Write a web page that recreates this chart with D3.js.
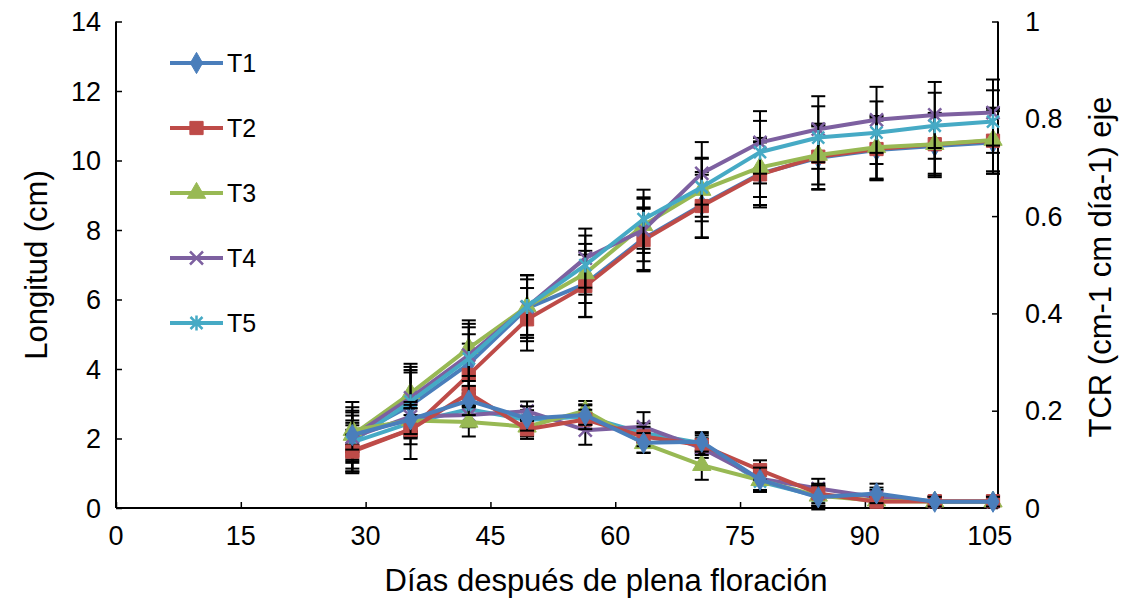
<!DOCTYPE html>
<html>
<head>
<meta charset="utf-8">
<script src="https://cdn.jsdelivr.net/npm/d3@7"></script>
<style>
  body { margin: 0; background: #fff; }
  svg { font-family: "Liberation Sans", Arial, sans-serif; }
</style>
</head>
<body>
<svg id="svg" width="1123" height="603"></svg>
<script>
// days after full bloom
var days = [28.4, 35.4, 42.4, 49.4, 56.4, 63.4, 70.4, 77.4, 84.4, 91.4, 98.4, 105.4];
var names = ["T1", "T2", "T3", "T4", "T5"];

// length (cm), left axis
var lenT1 = [2.05, 2.95, 4.15, 5.75, 6.45, 7.75, 8.72, 9.62, 10.08, 10.3, 10.42, 10.52];
var lenT2 = [1.65, 2.26, 3.83, 5.43, 6.39, 7.71, 8.69, 9.6, 10.11, 10.33, 10.47, 10.57];
var lenT3 = [2.1, 3.3, 4.6, 5.8, 6.75, 8.14, 9.15, 9.8, 10.16, 10.38, 10.47, 10.59];
var lenT4 = [2.05, 3.17, 4.4, 5.78, 7.19, 8.0, 9.63, 10.52, 10.9, 11.17, 11.31, 11.38];
var lenT5 = [1.9, 3.06, 4.3, 5.8, 6.99, 8.31, 9.23, 10.24, 10.66, 10.8, 11.0, 11.12];

var lenErrT1 = [1.0, 0.95, 0.85, 0.95, 0.95, 0.9, 0.95, 0.9, 0.9, 0.85, 0.9, 0.9];
var lenErrT2 = [0.6, 0.85, 0.9, 0.9, 0.9, 0.9, 0.9, 0.95, 0.95, 0.9, 0.9, 0.95];
var lenErrT3 = [0.8, 0.85, 0.8, 0.9, 0.85, 0.8, 0.9, 0.85, 0.85, 0.9, 0.85, 0.9];
var lenErrT4 = [0.7, 0.8, 0.9, 0.8, 0.85, 0.9, 0.9, 0.9, 0.95, 0.95, 0.95, 0.95];
var lenErrT5 = [0.9, 1.0, 0.9, 0.9, 0.85, 0.85, 0.85, 0.9, 0.9, 0.9, 0.95, 0.9];

// TCR, right axis
var tcrT1 = [0.15, 0.182, 0.221, 0.184, 0.191, 0.134, 0.136, 0.058, 0.022, 0.03, 0.013, 0.013];
var tcrT2 = [0.116, 0.161, 0.236, 0.162, 0.182, 0.147, 0.129, 0.078, 0.03, 0.013, 0.014, 0.014];
var tcrT3 = [0.16, 0.18, 0.177, 0.167, 0.2, 0.133, 0.088, 0.057, 0.025, 0.015, 0.013, 0.013];
var tcrT4 = [0.145, 0.188, 0.191, 0.199, 0.16, 0.167, 0.123, 0.06, 0.04, 0.022, 0.013, 0.013];
var tcrT5 = [0.135, 0.175, 0.203, 0.181, 0.188, 0.154, 0.133, 0.054, 0.024, 0.027, 0.013, 0.013];

var tcrErrT1 = [0.03, 0.03, 0.03, 0.025, 0.02, 0.02, 0.02, 0.025, 0.025, 0.02, 0.01, 0.01];
var tcrErrT2 = [0.035, 0.03, 0.025, 0.02, 0.02, 0.02, 0.02, 0.02, 0.02, 0.01, 0.01, 0.01];
var tcrErrT3 = [0.03, 0.025, 0.03, 0.02, 0.02, 0.02, 0.03, 0.02, 0.02, 0.01, 0.01, 0.01];
var tcrErrT4 = [0.03, 0.03, 0.025, 0.02, 0.03, 0.03, 0.02, 0.025, 0.02, 0.015, 0.01, 0.01];
var tcrErrT5 = [0.035, 0.03, 0.03, 0.02, 0.025, 0.02, 0.02, 0.02, 0.02, 0.015, 0.01, 0.01];

var xTicks = [0, 15, 30, 45, 60, 75, 90, 105];
var yLeftTicks = [0, 2, 4, 6, 8, 10, 12, 14];
var yRightTicks = [0, 0.2, 0.4, 0.6, 0.8, 1];

var colors = ["#4A7EBB", "#BE4B48", "#98B954", "#7D60A0", "#46AAC5"];
var markers = ["diamond", "square", "triangle", "x", "star"];

var lenData = [lenT1, lenT2, lenT3, lenT4, lenT5];
var lenErr = [lenErrT1, lenErrT2, lenErrT3, lenErrT4, lenErrT5];
var tcrData = [tcrT1, tcrT2, tcrT3, tcrT4, tcrT5];
var tcrErr = [tcrErrT1, tcrErrT2, tcrErrT3, tcrErrT4, tcrErrT5];

var svg = d3.select("#svg");
var plot = { left: 116, right: 998, top: 21.5, bottom: 508 };
var tickFont = 27, titleFont = 31;

var xScale = d3.scaleLinear().domain([0, 106]).range([plot.left, plot.right]);
var yLeft = d3.scaleLinear().domain([0, 14]).range([plot.bottom, plot.top]);
var yRight = d3.scaleLinear().domain([0, 1]).range([plot.bottom, plot.top]);

// axes, ticks pointing inward
var xAxis = svg.append("g")
  .attr("transform", "translate(0," + plot.bottom + ")")
  .call(d3.axisTop(xScale).tickValues(xTicks).tickSize(6).tickFormat(""));
var lAxis = svg.append("g")
  .attr("transform", "translate(" + plot.left + ",0)")
  .call(d3.axisRight(yLeft).tickValues(yLeftTicks).tickSize(6).tickFormat(""));
var rAxis = svg.append("g")
  .attr("transform", "translate(" + plot.right + ",0)")
  .call(d3.axisLeft(yRight).tickValues(yRightTicks).tickSize(6).tickFormat(""));
[xAxis, lAxis, rAxis].forEach(function (a) {
  a.select(".domain").attr("stroke", "#000").attr("stroke-width", 2);
  a.selectAll(".tick line").attr("stroke", "#000").attr("stroke-width", 1.5);
});
// plain domain lines (no outer ticks)
xAxis.select(".domain").attr("d", "M" + plot.left + ",0H" + plot.right);
lAxis.select(".domain").attr("d", "M0," + plot.top + "V" + plot.bottom);
rAxis.select(".domain").attr("d", "M0," + plot.top + "V" + plot.bottom);

// tick labels
svg.append("g").selectAll("text").data(xTicks).enter().append("text")
  .attr("x", function (d) { return xScale(d); })
  .attr("y", 545).attr("text-anchor", "middle").attr("font-size", tickFont)
  .text(function (d) { return d; });
svg.append("g").selectAll("text").data(yLeftTicks).enter().append("text")
  .attr("x", 101).attr("y", function (d) { return yLeft(d) + 9.5; })
  .attr("text-anchor", "end").attr("font-size", tickFont)
  .text(function (d) { return d; });
svg.append("g").selectAll("text").data(yRightTicks).enter().append("text")
  .attr("x", 1025).attr("y", function (d) { return yRight(d) + 9.5; })
  .attr("text-anchor", "start").attr("font-size", tickFont)
  .text(function (d) { return d; });

// axis titles
svg.append("text").attr("transform", "translate(47,265) rotate(-90)")
  .attr("text-anchor", "middle").attr("font-size", titleFont).text("Longitud (cm)");
svg.append("text").attr("transform", "translate(1111,267) rotate(-90)")
  .attr("text-anchor", "middle").attr("font-size", titleFont).text("TCR (cm-1 cm día-1) eje");
svg.append("text").attr("x", 606).attr("y", 591)
  .attr("text-anchor", "middle").attr("font-size", titleFont).text("Días después de plena floración");

function markerPath(type) {
  if (type === "diamond") return d3.symbol().type(d3.symbolDiamond).size(130)();
  if (type === "square") return d3.symbol().type(d3.symbolSquare).size(175)();
  if (type === "triangle") return d3.symbol().type(d3.symbolTriangle).size(145)();
  if (type === "x") return "M-6.5,-6.5L6.5,6.5M-6.5,6.5L6.5,-6.5";
  return "M-6,-6L6,6M-6,6L6,-6M0,-7.5V7.5";
}

function drawSeries(values, errs, yScale, i) {
  var g = svg.append("g");
  var pts = values.map(function (v, k) { return { x: days[k], y: v, e: errs[k] }; });
  var line = d3.line().x(function (d) { return xScale(d.x); }).y(function (d) { return yScale(d.y); });
  g.append("path").datum(pts).attr("d", line)
    .attr("fill", "none").attr("stroke", colors[i]).attr("stroke-width", 4)
    .attr("stroke-linejoin", "round");
  var eb = g.append("g").attr("stroke", "#000").attr("stroke-width", 2);
  pts.forEach(function (d) {
    var cx = xScale(d.x), y1 = yScale(d.y + d.e), y0 = yScale(d.y - d.e);
    eb.append("line").attr("x1", cx).attr("x2", cx).attr("y1", y1).attr("y2", y0);
    eb.append("line").attr("x1", cx - 7).attr("x2", cx + 7).attr("y1", y1).attr("y2", y1);
    eb.append("line").attr("x1", cx - 7).attr("x2", cx + 7).attr("y1", y0).attr("y2", y0);
  });
  var isStroke = markers[i] === "x" || markers[i] === "star";
  g.selectAll(".m").data(pts).enter().append("path")
    .attr("transform", function (d) { return "translate(" + xScale(d.x) + "," + yScale(d.y) + ")"; })
    .attr("d", markerPath(markers[i]))
    .attr("fill", isStroke ? "none" : colors[i])
    .attr("stroke", colors[i]).attr("stroke-width", isStroke ? 2.5 : 1);
}

for (var i = 0; i < 5; i++) drawSeries(lenData[i], lenErr[i], yLeft, i);
for (var j = 4; j >= 0; j--) drawSeries(tcrData[j], tcrErr[j], yRight, j);

// legend
var legend = svg.append("g");
names.forEach(function (n, i) {
  var ly = 63 + i * 65;
  legend.append("line").attr("x1", 170).attr("x2", 223).attr("y1", ly).attr("y2", ly)
    .attr("stroke", colors[i]).attr("stroke-width", 4);
  var isStroke = markers[i] === "x" || markers[i] === "star";
  legend.append("path").attr("transform", "translate(196.5," + ly + ")")
    .attr("d", markerPath(markers[i]))
    .attr("fill", isStroke ? "none" : colors[i])
    .attr("stroke", colors[i]).attr("stroke-width", isStroke ? 2.5 : 1);
  legend.append("text").attr("x", 227).attr("y", ly + 9).attr("font-size", 25).text(n);
});
</script>
</body>
</html>
